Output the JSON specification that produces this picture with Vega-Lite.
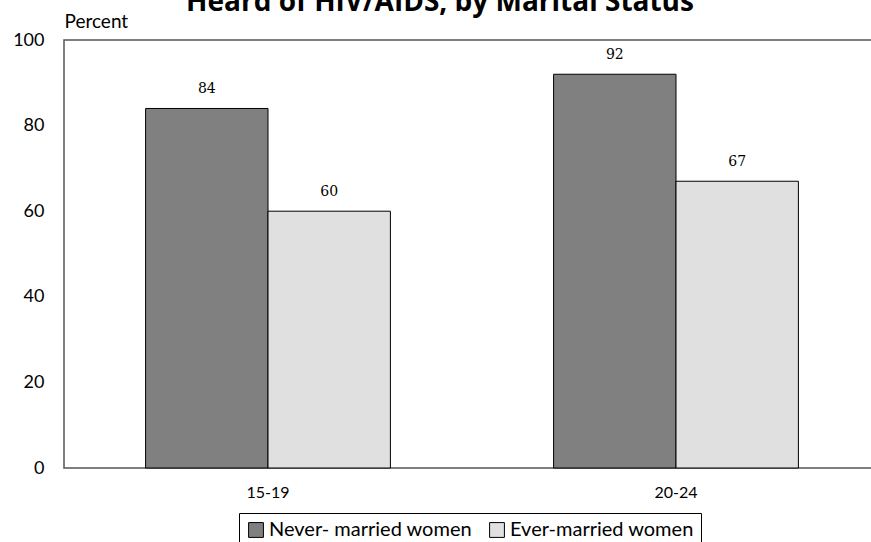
{
  "$schema": "https://vega.github.io/schema/vega-lite/v6.json",
  "autosize": {"type": "none"},
  "padding": {"left": 64, "top": 40, "right": 0, "bottom": 74},
  "width": 816,
  "height": 428,
  "title": {
    "text": "Heard of HIV/AIDS, by Marital Status",
    "font": "Open Sans",
    "fontSize": 28,
    "fontWeight": "bold",
    "color": "#000",
    "anchor": "middle",
    "frame": "group",
    "dx": -32,
    "offset": -27,
    "baseline": "alphabetic"
  },
  "data": {
    "values": [
      {"age": "15-19", "status": "Never- married women", "pct": 84},
      {"age": "15-19", "status": "Ever-married women", "pct": 60},
      {"age": "20-24", "status": "Never- married women", "pct": 92},
      {"age": "20-24", "status": "Ever-married women", "pct": 67}
    ]
  },
  "encoding": {
    "x": {
      "field": "age",
      "type": "nominal",
      "scale": {"paddingInner": 0.4, "paddingOuter": 0.2},
      "axis": {
        "title": null,
        "labelAngle": 0,
        "ticks": false,
        "domain": false,
        "labelPadding": 16,
        "labelFont": "Lato",
        "labelFontSize": 16,
        "labelColor": "#000"
      }
    },
    "xOffset": {
      "field": "status",
      "type": "nominal",
      "sort": ["Never- married women", "Ever-married women"]
    },
    "y": {
      "field": "pct",
      "type": "quantitative",
      "scale": {"domain": [0, 100]},
      "axis": {
        "values": [0, 20, 40, 60, 80, 100],
        "grid": false,
        "ticks": false,
        "domain": false,
        "labelPadding": 20,
        "labelFont": "Lato",
        "labelFontSize": 18,
        "labelColor": "#000",
        "title": "Percent",
        "titleAngle": 0,
        "titleAlign": "left",
        "titleBaseline": "alphabetic",
        "titleX": 0,
        "titleY": -13,
        "titleFont": "Lato",
        "titleFontSize": 19,
        "titleFontWeight": "normal",
        "titleColor": "#000"
      }
    }
  },
  "layer": [
    {
      "mark": {"type": "bar", "stroke": "#000", "strokeWidth": 1},
      "encoding": {
        "color": {
          "field": "status",
          "type": "nominal",
          "sort": ["Never- married women", "Ever-married women"],
          "scale": {
            "domain": ["Never- married women", "Ever-married women"],
            "range": ["#808080", "#e0e0e0"]
          },
          "legend": {
            "title": null,
            "orient": "none",
            "direction": "horizontal",
            "legendX": 175,
            "legendY": 473,
            "strokeColor": "#000",
            "padding": 7,
            "columnPadding": 14,
            "symbolType": "square",
            "symbolSize": 220,
            "symbolStrokeColor": "#000",
            "symbolStrokeWidth": 1,
            "symbolOpacity": 1,
            "labelFont": "Lato",
            "labelFontSize": 20,
            "labelColor": "#000",
            "labelOffset": 3,
            "labelLimit": 400
          }
        }
      }
    },
    {
      "mark": {
        "type": "text",
        "dy": -12,
        "baseline": "bottom",
        "font": "DejaVu Serif",
        "fontSize": 14,
        "color": "#000"
      },
      "encoding": {"text": {"field": "pct", "type": "quantitative"}}
    }
  ],
  "config": {
    "view": {"stroke": "#555555", "strokeWidth": 1.5},
    "background": "#ffffff"
  }
}
